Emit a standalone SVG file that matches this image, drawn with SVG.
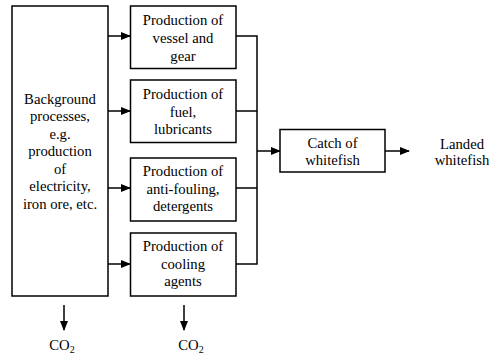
<svg xmlns="http://www.w3.org/2000/svg" width="489" height="356" viewBox="0 0 489 356" font-family="Liberation Serif, Times New Roman, serif">
<defs>
<marker id="ah" markerWidth="10" markerHeight="8" refX="9" refY="4" orient="auto" markerUnits="userSpaceOnUse">
<path d="M0,0 L10,4 L0,8 z" fill="#000"/>
</marker>
<style>
.box{fill:#fff;stroke:#000;stroke-width:1.5}
.ln{fill:none;stroke:#000;stroke-width:1.5}
.t{font-size:14.7px;fill:#000;text-anchor:middle}
</style>
</defs>
<rect width="489" height="356" fill="#fff"/>
<g id="connectors">
<line class="ln" x1="108" y1="36" x2="130" y2="36" marker-end="url(#ah)"/>
<line class="ln" x1="108" y1="111" x2="130" y2="111" marker-end="url(#ah)"/>
<line class="ln" x1="108" y1="188" x2="130" y2="188" marker-end="url(#ah)"/>
<line class="ln" x1="108" y1="264" x2="130" y2="264" marker-end="url(#ah)"/>
<path class="ln" d="M236,36 H257 M236,111 H257 M236,188 H257 M236,264 H257 M257,35.25 V264.75"/>
<line class="ln" x1="257" y1="151" x2="280" y2="151" marker-end="url(#ah)"/>
<line class="ln" x1="385" y1="151" x2="409" y2="151" marker-end="url(#ah)"/>
<line class="ln" x1="64" y1="305" x2="64" y2="330" marker-end="url(#ah)"/>
<line class="ln" x1="184" y1="305" x2="184" y2="330" marker-end="url(#ah)"/>
</g>
<g id="background" class="t">
<rect class="box" x="12" y="6" width="96" height="290"/>
<text x="60" y="104">Background</text>
<text x="60" y="121">processes,</text>
<text x="60" y="139">e.g.</text>
<text x="60" y="156">production</text>
<text x="60" y="174">of</text>
<text x="60" y="191">electricity,</text>
<text x="60" y="209">iron ore, etc.</text>
</g>
<g id="vessel" class="t">
<rect class="box" x="130.5" y="6" width="105.5" height="62.5"/>
<text x="183" y="25">Production of</text>
<text x="183" y="43">vessel and</text>
<text x="183" y="61">gear</text>
</g>
<g id="fuel" class="t">
<rect class="box" x="130.5" y="80" width="105.5" height="62.5"/>
<text x="183" y="99">Production of</text>
<text x="183" y="117">fuel,</text>
<text x="183" y="134">lubricants</text>
</g>
<g id="antifouling" class="t">
<rect class="box" x="130.5" y="158" width="105.5" height="63"/>
<text x="183" y="176">Production of</text>
<text x="183" y="194">anti-fouling,</text>
<text x="183" y="211">detergents</text>
</g>
<g id="cooling" class="t">
<rect class="box" x="130.5" y="233" width="105.5" height="63"/>
<text x="183" y="251">Production of</text>
<text x="183" y="269">cooling</text>
<text x="183" y="286">agents</text>
</g>
<g id="catch" class="t">
<rect class="box" x="280" y="129.5" width="105" height="42.5"/>
<text x="332.5" y="148">Catch of</text>
<text x="332.5" y="165">whitefish</text>
</g>
<g id="landed" class="t">
<text x="462" y="149">Landed</text>
<text x="462" y="165">whitefish</text>
</g>
<g id="co2a" class="t">
<text x="62" y="350">CO<tspan font-size="10" dy="3">2</tspan></text>
</g>
<g id="co2b" class="t">
<text x="191" y="350">CO<tspan font-size="10" dy="3">2</tspan></text>
</g>
</svg>
